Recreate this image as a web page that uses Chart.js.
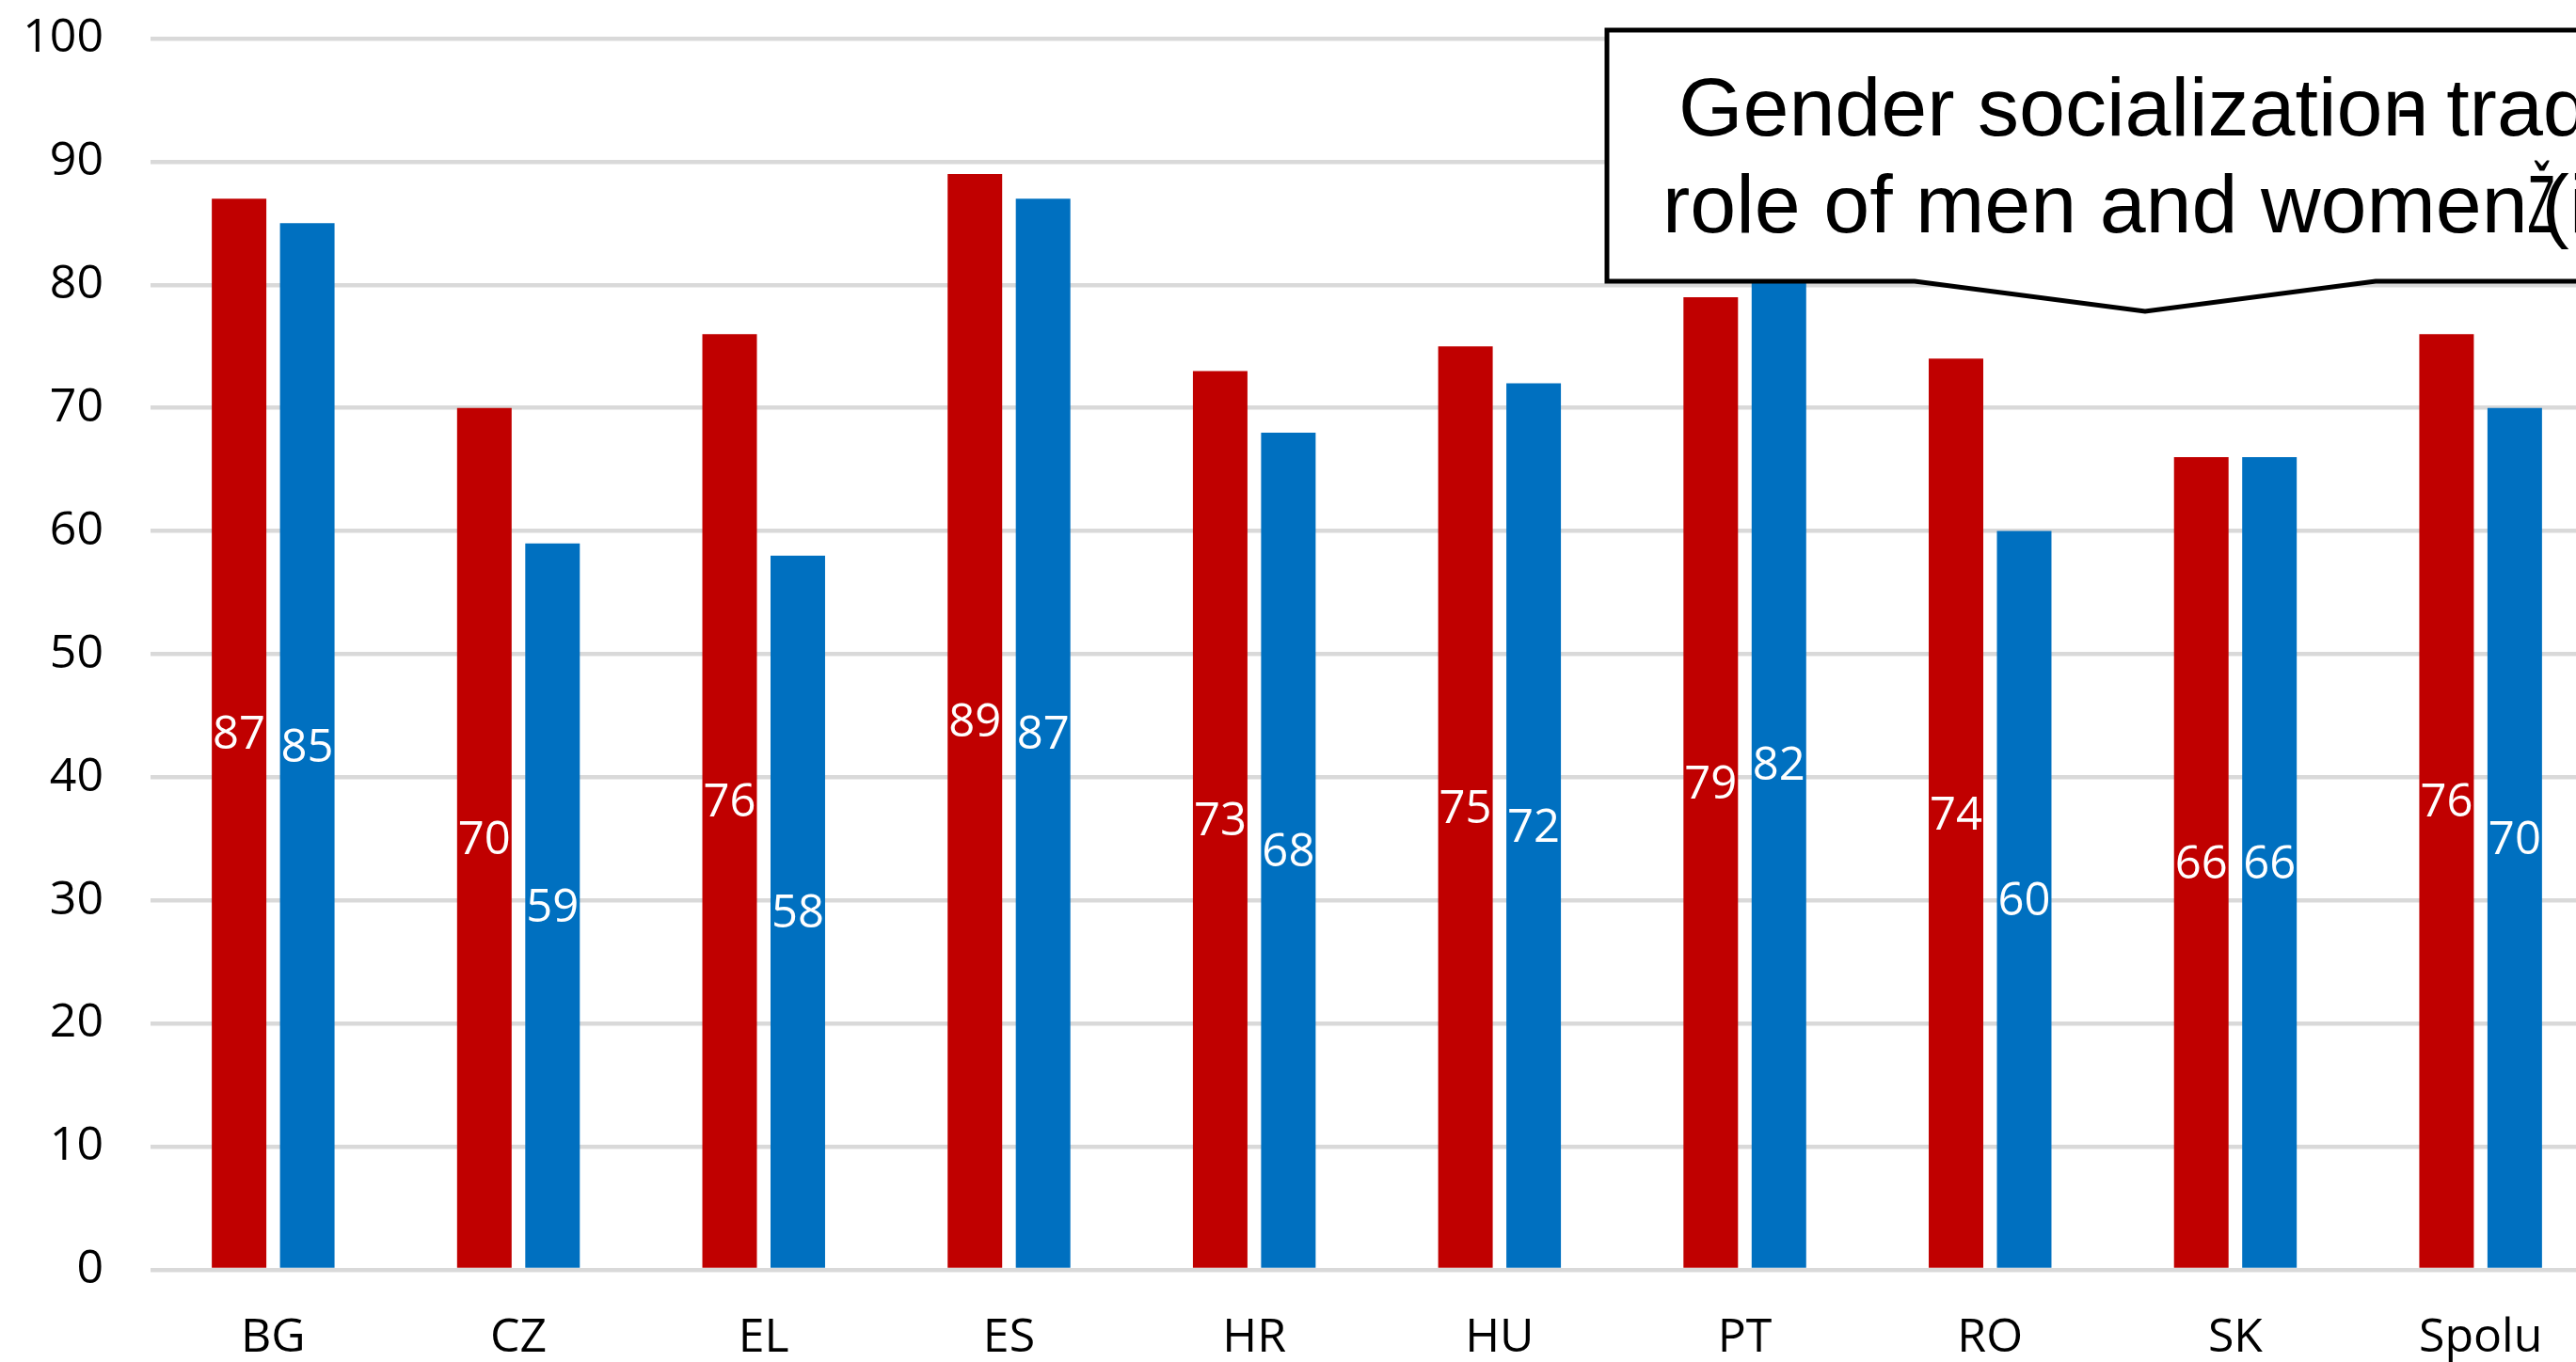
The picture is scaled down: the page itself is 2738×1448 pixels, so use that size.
<!DOCTYPE html>
<html>
<head>
<meta charset="utf-8">
<title>Gender socialization</title>
<script src="https://cdn.jsdelivr.net/npm/chart.js@4.4.1/dist/chart.umd.min.js"></script>
<style>
html, body { margin: 0; padding: 0; background: #fff; overflow: hidden; }
#wrap { position: relative; width: 2800px; height: 1448px; }
</style>
</head>
<body>
<div id="wrap"><canvas id="bar-chartcanvas"></canvas></div>
<script>
//chart values
var categories = ['BG', 'CZ', 'EL', 'ES', 'HR', 'HU', 'PT', 'RO', 'SK', 'Spolu'];
var redValues = [87, 70, 76, 89, 73, 75, 79, 74, 66, 76];
var blueValues = [85, 59, 58, 87, 68, 72, 82, 60, 66, 70];
var yTicks = [0, 10, 20, 30, 40, 50, 60, 70, 80, 90, 100];

//callout text
var calloutLine1 = 'Gender socialization';
var calloutDash = '- traditional';
var calloutLine2 = 'role of men and women';

//white values in the middle of each bar
var barLabels = {
    id: 'barLabels',
    afterDatasetsDraw: function(chart) {
        var ctx = chart.ctx;
        ctx.save();
        ctx.font = '49px "Open Sans"';
        ctx.fillStyle = '#fff';
        ctx.textAlign = 'center';
        ctx.textBaseline = 'alphabetic';
        chart.data.datasets.forEach(function(ds, i) {
            chart.getDatasetMeta(i).data.forEach(function(bar, j) {
                var mid = (bar.y + bar.base) / 2;
                ctx.fillText(ds.data[j], bar.x, mid + 17);
            });
        });
        ctx.restore();
    }
};

//speech bubble over the top right
var callout = {
    id: 'callout',
    afterDraw: function(chart) {
        var ctx = chart.ctx;
        ctx.save();
        ctx.beginPath();
        ctx.moveTo(1708, 32);
        ctx.lineTo(2830, 32);
        ctx.lineTo(2830, 299);
        ctx.lineTo(2525, 299);
        ctx.lineTo(2280, 331);
        ctx.lineTo(2035, 299);
        ctx.lineTo(1708, 299);
        ctx.closePath();
        ctx.fillStyle = '#fff';
        ctx.fill();
        ctx.lineWidth = 5;
        ctx.strokeStyle = '#000';
        ctx.lineJoin = 'miter';
        ctx.stroke();

        ctx.font = '88px "Liberation Sans"';
        ctx.fillStyle = '#000';
        ctx.textAlign = 'left';
        ctx.textBaseline = 'alphabetic';
        ctx.fillText(calloutLine1, 1784, 144);
        var w1 = ctx.measureText('Gender socializatio').width;
        ctx.fillText(calloutDash, 1784 + w1 + 14, 144);

        ctx.fillText(calloutLine2, 1767, 247);
        var w2 = 1767 + ctx.measureText(calloutLine2).width;
        ctx.save();
        ctx.translate(w2, 247);
        ctx.scale(0.55, 1);
        ctx.fillText('Ž', 0, 0);
        ctx.restore();
        ctx.fillText('(in %)', w2 + 15, 247);
        ctx.restore();
    }
};

var ctx = document.getElementById('bar-chartcanvas');

var data = {
    labels: categories,
    datasets: [{
        label: 'Series 1',
        data: redValues,
        backgroundColor: '#C00000',
        borderWidth: 0,
        categoryPercentage: 0.556,
        barPercentage: 0.8
    }, {
        label: 'Series 2',
        data: blueValues,
        backgroundColor: '#0070C0',
        borderWidth: 0,
        categoryPercentage: 0.556,
        barPercentage: 0.8
    }]
};

var options = {
    responsive: true,
    maintainAspectRatio: false,
    animation: false,
    layout: { padding: { left: 0, right: 33, top: 41, bottom: 0 } },
    plugins: {
        legend: { display: false },
        title: { display: false },
        tooltip: { enabled: false }
    },
    scales: {
        x: {
            grid: { display: false, drawTicks: false },
            border: { display: false },
            ticks: {
                color: '#000',
                font: { family: '"Open Sans"', size: 50 },
                padding: 43,
                maxRotation: 0,
                autoSkip: false
            },
            afterFit: function(scale) {
                scale.height = 98;
                scale.paddingLeft = 0;
                scale.paddingRight = 0;
            }
        },
        y: {
            min: 0,
            max: 100,
            grid: { color: '#D9D9D9', lineWidth: 4.5, drawTicks: false },
            border: { display: false },
            ticks: {
                color: '#000',
                font: { family: '"Open Sans"', size: 50 },
                padding: 50
            },
            afterBuildTicks: function(scale) {
                scale.ticks = yTicks.map(function(v) { return { value: v }; });
            },
            afterFit: function(scale) {
                scale.width = 160;
                scale.paddingTop = 0;
                scale.paddingBottom = 0;
            }
        }
    }
};

var chart = new Chart(ctx, {
    type: 'bar',
    data: data,
    options: options,
    plugins: [barLabels, callout]
});
</script>
</body>
</html>
